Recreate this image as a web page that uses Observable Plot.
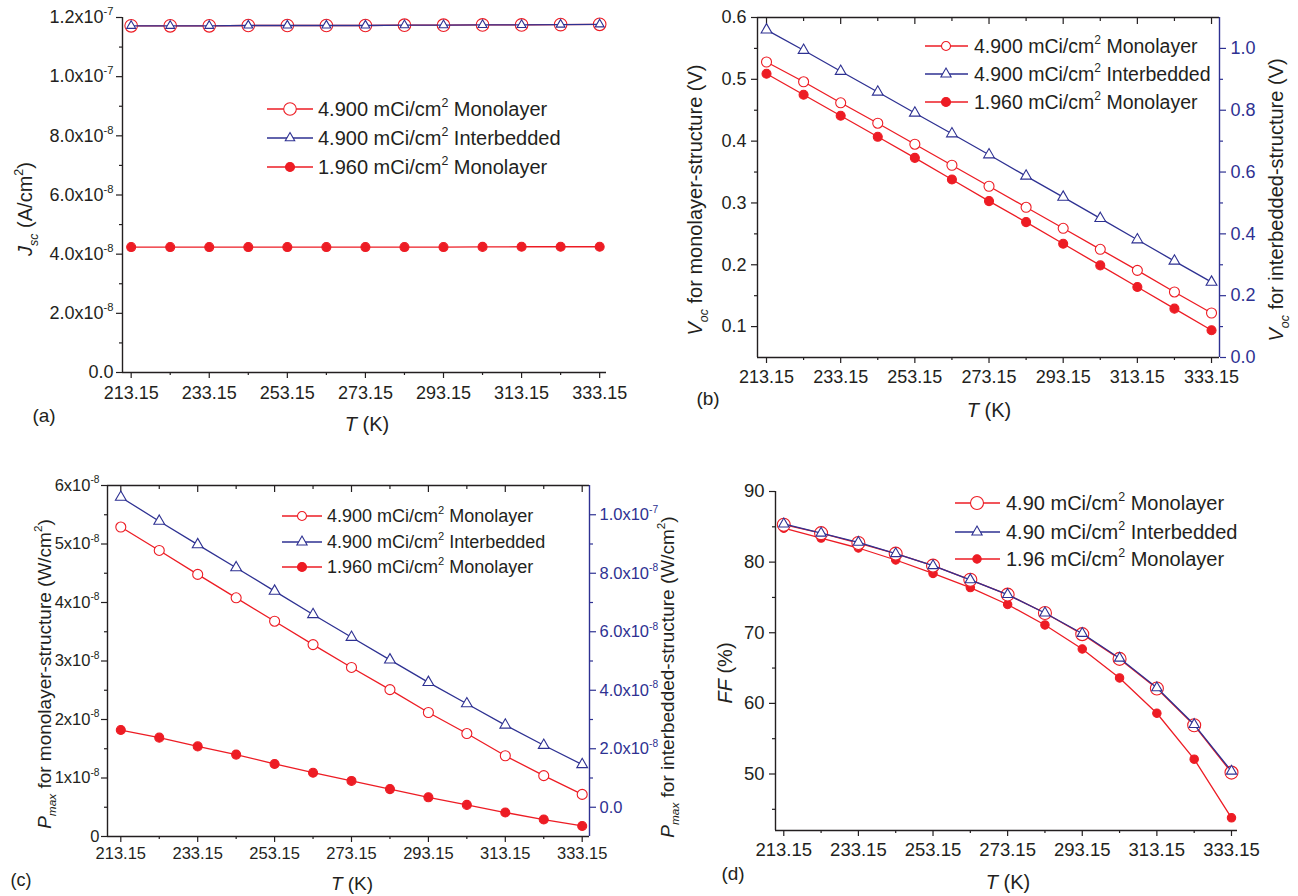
<!DOCTYPE html>
<html><head><meta charset="utf-8">
<script src="https://cdn.jsdelivr.net/npm/d3@7"></script>
<script src="https://cdn.jsdelivr.net/npm/@observablehq/plot@0.6"></script>
<style>
body{margin:0;background:#fff;}
#wrap{position:relative;width:1298px;height:896px;overflow:hidden;background:#fff;}
#wrap svg{position:absolute;overflow:visible;background:transparent;}
</style></head><body><div id="wrap"></div>
<script>
// ---------- data ----------
const T = [213.15, 223.15, 233.15, 243.15, 253.15, 263.15, 273.15, 283.15, 293.15, 303.15, 313.15, 323.15, 333.15];
const T_MAJOR = [213.15, 233.15, 253.15, 273.15, 293.15, 313.15, 333.15];
const T_MINOR = [223.15, 243.15, 263.15, 283.15, 303.15, 323.15];

// (a) Jsc (A/cm^2)
const jscMono490 = [1.172e-7, 1.172e-7, 1.172e-7, 1.173e-7, 1.173e-7, 1.173e-7, 1.173e-7, 1.174e-7, 1.174e-7, 1.175e-7, 1.175e-7, 1.176e-7, 1.177e-7];
const jscInter490 = [1.172e-7, 1.172e-7, 1.172e-7, 1.173e-7, 1.173e-7, 1.173e-7, 1.173e-7, 1.174e-7, 1.174e-7, 1.175e-7, 1.175e-7, 1.176e-7, 1.177e-7];
const jscMono196 = [4.24e-8, 4.24e-8, 4.24e-8, 4.24e-8, 4.24e-8, 4.24e-8, 4.24e-8, 4.24e-8, 4.24e-8, 4.245e-8, 4.25e-8, 4.25e-8, 4.25e-8];
const jscTicks = [0, 2e-8, 4e-8, 6e-8, 8e-8, 1e-7, 1.2e-7];
const jscTickLabels = ["0.0", "2.0x10^-8", "4.0x10^-8", "6.0x10^-8", "8.0x10^-8", "1.0x10^-7", "1.2x10^-7"];
const jscMinor = [1e-8, 3e-8, 5e-8, 7e-8, 9e-8, 1.1e-7];

// (b) Voc (V)
const vocMono490 = [0.528, 0.496, 0.462, 0.429, 0.395, 0.361, 0.327, 0.293, 0.259, 0.225, 0.191, 0.156, 0.122];
const vocMono196 = [0.509, 0.475, 0.441, 0.407, 0.373, 0.338, 0.303, 0.269, 0.234, 0.199, 0.164, 0.129, 0.094];
const vocInter490 = [1.060, 0.994, 0.926, 0.859, 0.791, 0.724, 0.656, 0.587, 0.519, 0.450, 0.381, 0.312, 0.244];
const vocTicks = [0.1, 0.2, 0.3, 0.4, 0.5, 0.6];
const vocTickLabels = ["0.1", "0.2", "0.3", "0.4", "0.5", "0.6"];
const vocMinor = [0.15, 0.25, 0.35, 0.45, 0.55];
const vocRTicks = [0, 0.2, 0.4, 0.6, 0.8, 1.0];
const vocRTickLabels = ["0.0", "0.2", "0.4", "0.6", "0.8", "1.0"];
const vocRMinor = [0.1, 0.3, 0.5, 0.7, 0.9];

// (c) Pmax (W/cm^2)
const pmaxMono490 = [5.29e-8, 4.89e-8, 4.48e-8, 4.08e-8, 3.68e-8, 3.28e-8, 2.89e-8, 2.51e-8, 2.12e-8, 1.76e-8, 1.38e-8, 1.04e-8, 0.72e-8];
const pmaxMono196 = [1.82e-8, 1.69e-8, 1.54e-8, 1.40e-8, 1.24e-8, 1.09e-8, 0.95e-8, 0.81e-8, 0.67e-8, 0.54e-8, 0.41e-8, 0.29e-8, 0.18e-8];
const pmaxInter490 = [1.060e-7, 0.978e-7, 0.898e-7, 0.819e-7, 0.739e-7, 0.659e-7, 0.581e-7, 0.504e-7, 0.427e-7, 0.354e-7, 0.281e-7, 0.212e-7, 0.146e-7];
const pmaxTicks = [0, 1e-8, 2e-8, 3e-8, 4e-8, 5e-8, 6e-8];
const pmaxTickLabels = ["0", "1x10^-8", "2x10^-8", "3x10^-8", "4x10^-8", "5x10^-8", "6x10^-8"];
const pmaxMinor = [0.5e-8, 1.5e-8, 2.5e-8, 3.5e-8, 4.5e-8, 5.5e-8];
const pmaxRTicks = [0, 2e-8, 4e-8, 6e-8, 8e-8, 1e-7];
const pmaxRTickLabels = ["0.0", "2.0x10^-8", "4.0x10^-8", "6.0x10^-8", "8.0x10^-8", "1.0x10^-7"];
const pmaxRMinor = [1e-8, 3e-8, 5e-8, 7e-8, 9e-8];

// (d) FF (%)
const ffMono490 = [85.3, 84.1, 82.7, 81.2, 79.5, 77.5, 75.4, 72.8, 69.8, 66.3, 62.1, 56.9, 50.2];
const ffInter490 = [85.4, 84.1, 82.8, 81.2, 79.5, 77.5, 75.4, 72.8, 69.9, 66.4, 62.2, 57.0, 50.4];
const ffMono196 = [84.8, 83.4, 82.0, 80.3, 78.4, 76.4, 74.0, 71.1, 67.7, 63.6, 58.6, 52.1, 43.8];
const ffTicks = [50, 60, 70, 80, 90];
const ffTickLabels = ["50", "60", "70", "80", "90"];
const ffMinor = [45, 55, 65, 75, 85];

const legendLabels3 = ["4.900 mCi/cm^2 Monolayer", "4.900 mCi/cm^2 Interbedded", "1.960 mCi/cm^2 Monolayer"];
const legendLabels2 = ["4.90 mCi/cm^2 Monolayer", "4.90 mCi/cm^2 Interbedded", "1.96 mCi/cm^2 Monolayer"];

// ---------- style ----------
const RED = "#ed1c24", BLUE = "#2e3192", INK = "#231f20";
const FONT = "'Liberation Sans', Arial, Helvetica, sans-serif";

function rich(sel, parts, fs) {
  let off = 0;
  for (const p of parts) {
    const tgt = p.sub ? 0.28 * fs : p.sup ? -0.45 * fs : 0;
    const ts = sel.append("tspan").text(p.t);
    if (tgt !== off) ts.attr("dy", tgt - off);
    off = tgt;
    if (p.sub || p.sup) ts.attr("font-size", 0.62 * fs);
    if (p.it) ts.attr("font-style", "italic");
  }
}
function parseSup(s) {
  const out = [];
  s.split(/(\^-?\d+)/).forEach(tok => {
    if (!tok) return;
    if (tok[0] === "^") out.push({t: tok.slice(1), sup: true});
    else out.push({t: tok});
  });
  return out;
}

const wrap = document.getElementById("wrap");

function panel(cfg) {
  const {left, top, w = 649, h = 448, m, xDomain, yDomain, yTicks, yLabels, yMinor, right, topAxis,
         tickFs, xPad, yPad, series, legend, ylabel, ylabelR, xlabel, tag} = cfg;
  const toLeft = right ? (v => yDomain[0] + (v - right.domain[0]) * (yDomain[1] - yDomain[0]) / (right.domain[1] - right.domain[0])) : null;
  const yMap = new Map(yTicks.map((v, i) => [v, yLabels[i]]));
  const marks = [
    Plot.axisX({ticks: T_MAJOR, tickSize: 6, tickPadding: xPad, tickFormat: d => d.toFixed(2), fontSize: tickFs, label: null, stroke: INK, strokeWidth: 1.2}),
    Plot.axisX({ticks: T_MINOR, tickSize: 3, tickFormat: () => "", label: null, strokeWidth: 1.2}),
    Plot.axisY({ticks: yTicks, tickSize: 6, tickPadding: yPad, tickFormat: d => yMap.get(d), fontSize: tickFs, label: null, strokeWidth: 1.2}),
    Plot.axisY({ticks: yMinor, tickSize: 3, tickFormat: () => "", label: null, strokeWidth: 1.2}),
    Plot.ruleX([xDomain[0]], {stroke: INK, strokeWidth: 1.4}),
    Plot.ruleY([yDomain[0]], {stroke: INK, strokeWidth: 1.4})
  ];
  if (topAxis) {
    marks.push(Plot.ruleY([yDomain[1]], {stroke: INK, strokeWidth: 1.4}));
    marks.push(Plot.axisX({anchor: "top", ticks: T_MAJOR, tickSize: 6, dy: 6, tickFormat: () => "", label: null, strokeWidth: 1.2}));
    marks.push(Plot.axisX({anchor: "top", ticks: T_MINOR, tickSize: 3, dy: 3, tickFormat: () => "", label: null, strokeWidth: 1.2}));
  }
  if (right) {
    const rMap = new Map(right.ticks.map((v, i) => [toLeft(v), right.labels[i]]));
    marks.push(Plot.ruleX([xDomain[1]], {stroke: BLUE, strokeWidth: 1.4}));
    marks.push(Plot.axisY({anchor: "right", ticks: [...rMap.keys()], tickSize: 6, tickPadding: right.pad, tickFormat: d => rMap.get(d), fontSize: tickFs, color: BLUE, label: null, strokeWidth: 1.2}));
    marks.push(Plot.axisY({anchor: "right", ticks: right.minor.map(toLeft), tickSize: 3, tickFormat: () => "", color: BLUE, label: null, strokeWidth: 1.2}));
  }
  for (const s of series) {
    const data = T.map((t, i) => ({t, v: s.right ? toLeft(s.values[i]) : s.values[i]}));
    marks.push(Plot.line(data, {x: "t", y: "v", stroke: s.color, strokeWidth: 1.3}));
    marks.push(Plot.dot(data, {x: "t", y: "v", symbol: s.symbol, r: s.r, stroke: s.color, fill: s.fill, strokeWidth: 1.1}));
  }
  const svg = Plot.plot({
    width: w, height: h,
    marginLeft: m[0], marginRight: m[1], marginTop: m[2], marginBottom: m[3],
    x: {domain: xDomain, label: null},
    y: {domain: yDomain, label: null},
    style: {fontFamily: FONT, fontSize: tickFs + "px", color: INK, background: "transparent", overflow: "visible"},
    marks
  });
  svg.style.left = left + "px";
  svg.style.top = top + "px";
  wrap.appendChild(svg);
  const S = d3.select(svg);
  // superscripts in tick labels
  S.selectAll("text").each(function () {
    const s = this.textContent;
    if (s.includes("^")) {
      this.textContent = "";
      rich(d3.select(this), parseSup(s), tickFs);
    }
  });
  const g = S.append("g").attr("font-family", FONT).attr("fill", INK);
  // legend
  legend.items.forEach((it, i) => {
    const y = legend.ys[i];
    g.append("line").attr("x1", legend.x1).attr("x2", legend.x2).attr("y1", y).attr("y2", y)
      .attr("stroke", it.color).attr("stroke-width", 1.3);
    g.append("path").attr("transform", `translate(${legend.xm},${y})`)
      .attr("d", d3.symbol(it.symbol === "triangle" ? d3.symbolTriangle : d3.symbolCircle, Math.PI * it.r * it.r)())
      .attr("fill", it.fill).attr("stroke", it.color).attr("stroke-width", 1.1);
    const t = g.append("text").attr("x", legend.xt).attr("y", y).attr("dy", "0.36em")
      .attr("text-anchor", "start").attr("font-size", legend.fs);
    rich(t, parseSup(it.label), legend.fs);
  });
  // axis titles
  const title = (x, y, rot, parts, fs, color = INK) => {
    const t = g.append("text").attr("transform", `translate(${x},${y}) rotate(${rot})`)
      .attr("text-anchor", "middle").attr("dy", "0.36em").attr("font-size", fs).attr("fill", color);
    rich(t, parts, fs);
  };
  title(ylabel.x, ylabel.y, -90, ylabel.parts, ylabel.fs);
  if (ylabelR) title(ylabelR.x, ylabelR.y, -90, ylabelR.parts, ylabelR.fs);
  title(xlabel.x, xlabel.y, 0, [{t: "T", it: true}, {t: " (K)"}], xlabel.fs);
  title(tag.x, tag.y, 0, [{t: tag.text}], tag.fs);
}

const itemsFor = (labels, openR, triR, fillR) => [
  {label: labels[0], color: RED, symbol: "circle", fill: "white", r: openR},
  {label: labels[1], color: BLUE, symbol: "triangle", fill: "white", r: triR},
  {label: labels[2], color: RED, symbol: "circle", fill: RED, r: fillR}
];

// (a)
panel({
  left: 0, top: 0, m: [122, 43, 17, 76],
  xDomain: [210.93, 334.9], yDomain: [0, 1.2e-7],
  yTicks: jscTicks, yLabels: jscTickLabels, yMinor: jscMinor,
  tickFs: 18, xPad: 8, yPad: 3,
  series: [
    {values: jscMono196, color: RED, symbol: "circle", fill: RED, r: 4.5},
    {values: jscMono490, color: RED, symbol: "circle", fill: "white", r: 6.3},
    {values: jscInter490, color: BLUE, symbol: "triangle", fill: "white", r: 3.3}
  ],
  legend: {x1: 267, x2: 313, xm: 290, xt: 318, ys: [109, 138, 167], fs: 20, items: itemsFor(legendLabels3, 6.3, 3.5, 4.5)},
  ylabel: {x: 25, y: 209, fs: 20, parts: [{t: "J", it: true}, {t: "sc", it: true, sub: true}, {t: " (A/cm"}, {t: "2", sup: true}, {t: ")"}]},
  xlabel: {x: 367, y: 424, fs: 20},
  tag: {x: 44, y: 415, text: "(a)", fs: 19}
});

// (b)
panel({
  left: 649, top: 0, m: [108, 79, 17, 91],
  xDomain: [210.72, 335.3], yDomain: [0.05, 0.6],
  yTicks: vocTicks, yLabels: vocTickLabels, yMinor: vocMinor,
  right: {domain: [0, 1.1], ticks: vocRTicks, labels: vocRTickLabels, minor: vocRMinor, pad: 5},
  topAxis: true,
  tickFs: 18, xPad: 7, yPad: 5,
  series: [
    {values: vocMono196, color: RED, symbol: "circle", fill: RED, r: 4.5},
    {values: vocMono490, color: RED, symbol: "circle", fill: "white", r: 5},
    {values: vocInter490, color: BLUE, symbol: "triangle", fill: "white", r: 4, right: true}
  ],
  legend: {x1: 276, x2: 319, xm: 297, xt: 325, ys: [46, 74, 102], fs: 19.5, items: itemsFor(legendLabels3, 4.5, 3.8, 4.5)},
  ylabel: {x: 46, y: 200, fs: 20, parts: [{t: "V", it: true}, {t: "oc", it: true, sub: true}, {t: " for monolayer-structure (V)"}]},
  ylabelR: {x: 627, y: 200, fs: 20, parts: [{t: "V", it: true}, {t: "oc", it: true, sub: true}, {t: " for interbedded-structure (V)"}]},
  xlabel: {x: 340, y: 410, fs: 20},
  tag: {x: 59, y: 398, text: "(b)", fs: 19}
});

// (c)
panel({
  left: 0, top: 448, m: [107, 60, 37, 60],
  xDomain: [209.69, 335.05], yDomain: [0, 6e-8],
  yTicks: pmaxTicks, yLabels: pmaxTickLabels, yMinor: pmaxMinor,
  right: {domain: [-1e-8, 1.1e-7], ticks: pmaxRTicks, labels: pmaxRTickLabels, minor: pmaxRMinor, pad: 4},
  topAxis: true,
  tickFs: 16.5, xPad: 5, yPad: 2,
  series: [
    {values: pmaxMono196, color: RED, symbol: "circle", fill: RED, r: 4.5},
    {values: pmaxMono490, color: RED, symbol: "circle", fill: "white", r: 5},
    {values: pmaxInter490, color: BLUE, symbol: "triangle", fill: "white", r: 4, right: true}
  ],
  legend: {x1: 282, x2: 322, xm: 302, xt: 327, ys: [68, 94, 119], fs: 18, items: itemsFor(legendLabels3, 4.5, 3.8, 4.5)},
  ylabel: {x: 44, y: 226, fs: 19, parts: [{t: "P", it: true}, {t: "max", it: true, sub: true}, {t: " for monolayer-structure (W/cm"}, {t: "2", sup: true}, {t: ")"}]},
  ylabelR: {x: 667, y: 229, fs: 19, parts: [{t: "P", it: true}, {t: "max", it: true, sub: true}, {t: " for interbedded-structure (W/cm"}, {t: "2", sup: true}, {t: ")"}]},
  xlabel: {x: 352, y: 435, fs: 19},
  tag: {x: 21, y: 432, text: "(c)", fs: 18}
});

// (d)
panel({
  left: 649, top: 448, m: [126, 61, 43, 66],
  xDomain: [210.93, 334.76], yDomain: [42, 90],
  yTicks: ffTicks, yLabels: ffTickLabels, yMinor: ffMinor,
  tickFs: 18.5, xPad: 6, yPad: 5,
  series: [
    {values: ffMono196, color: RED, symbol: "circle", fill: RED, r: 4.2},
    {values: ffMono490, color: RED, symbol: "circle", fill: "white", r: 6.5},
    {values: ffInter490, color: BLUE, symbol: "triangle", fill: "white", r: 3.8}
  ],
  legend: {x1: 306, x2: 351, xm: 328, xt: 357, ys: [55, 84, 111], fs: 20, items: itemsFor(legendLabels2, 6.5, 3.8, 4.2)},
  ylabel: {x: 76, y: 225, fs: 20, parts: [{t: "FF", it: true}, {t: " (%)"}]},
  xlabel: {x: 359, y: 434, fs: 20},
  tag: {x: 84, y: 425, text: "(d)", fs: 19}
});
</script></body></html>
